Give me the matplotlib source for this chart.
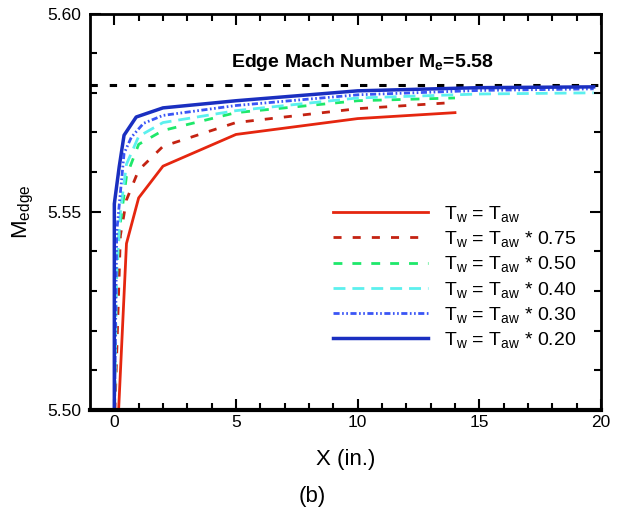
import matplotlib
matplotlib.use("Agg")
import matplotlib.pyplot as plt
import numpy as np

plt.rcParams['font.family'] = ['Liberation Sans', 'DejaVu Sans']
plt.rcParams['mathtext.fontset'] = 'custom'
plt.rcParams['mathtext.rm'] = 'Liberation Sans'
plt.rcParams['mathtext.it'] = 'Liberation Sans'
plt.rcParams['mathtext.bf'] = 'Liberation Sans:bold'
plt.rcParams['mathtext.default'] = 'regular'

# edge Mach number along the plate for each wall temperature ratio
x_aw = [0.1, 0.5, 1, 2, 5, 10, 14]
m_aw = [5.49, 5.542, 5.5535, 5.5615, 5.5695, 5.5735, 5.575]

x_075 = [0, 0.25, 0.5, 1, 2, 5, 10, 13.8]
m_075 = [5.495, 5.544, 5.553, 5.5605, 5.5665, 5.5725, 5.576, 5.5775]

x_050 = [0, 0.05, 0.2, 0.5, 1, 2, 5, 10, 14]
m_050 = [5.495, 5.528, 5.545, 5.559, 5.567, 5.5705, 5.575, 5.578, 5.5787]

x_040 = [0, 0.1, 0.25, 0.5, 1, 2, 5, 10, 15, 19.7]
m_040 = [5.495, 5.535, 5.55, 5.562, 5.569, 5.5725, 5.5755, 5.5787, 5.5797, 5.580]

x_030 = [0, 0.1, 0.4, 0.7, 1.2, 2, 5, 10, 15, 19.7]
m_030 = [5.495, 5.545, 5.5647, 5.5688, 5.5723, 5.5743, 5.5768, 5.5795, 5.5806, 5.581]

x_020 = [0, 0, 0.2, 0.4, 0.9, 2, 5, 10, 15, 19.7]
m_020 = [5.45, 5.552, 5.5613, 5.5693, 5.5739, 5.5762, 5.578, 5.5805, 5.5813, 5.5815]

m_edge = 5.582

labels = [r'$T_w$ = $T_{aw}$',
          r'$T_w$ = $T_{aw}$ * 0.75',
          r'$T_w$ = $T_{aw}$ * 0.50',
          r'$T_w$ = $T_{aw}$ * 0.40',
          r'$T_w$ = $T_{aw}$ * 0.30',
          r'$T_w$ = $T_{aw}$ * 0.20']

fig = plt.figure(figsize=(6.24, 5.14), dpi=100)
ax = fig.add_axes([0.1442, 0.2023, 0.8189, 0.7714])

ax.plot([-1, 20], [m_edge, m_edge], color='black', lw=2.2, dashes=(2.4, 3.9))

ax.plot(x_aw, m_aw, color='#e5260f', lw=2, label=labels[0])
ax.plot(x_075, m_075, color='#c42312', lw=2, dashes=(2.9, 4), label=labels[1])
ax.plot(x_050, m_050, color='#1ee86a', lw=2, dashes=(3.2, 3.6), label=labels[2])
ax.plot(x_040, m_040, color='#5cf0ee', lw=2, dashes=(4.3, 2.5), label=labels[3])
ax.plot(x_030, m_030, color='#3a55f5', lw=2,
        dashes=(2.2, 0.9, 0.6, 0.9, 0.6, 0.9), label=labels[4])
ax.plot(x_020, m_020, color='#1a2fc0', lw=2.5, label=labels[5])

ax.text(10.2, 5.5877, r'Edge Mach Number $\mathbf{M_e}$=5.58', fontsize=14,
        fontweight='bold', ha='center', va='center')

ax.set_xlim(-1, 20)
ax.set_ylim(5.50, 5.60)
ax.set_xticks([0, 5, 10, 15, 20])
ax.set_xticks(np.arange(0, 21, 1), minor=True)
ax.set_yticks([5.50, 5.55, 5.60])
ax.set_yticklabels(['5.50', '5.55', '5.60'])
ax.set_yticks(np.arange(5.50, 5.601, 0.01), minor=True)
ax.tick_params(which='both', direction='in', top=True, right=True, width=1.5, labelsize=12.5)
ax.tick_params(which='major', length=8)
ax.tick_params(which='minor', length=5)
ax.tick_params(axis='y', pad=6)
for s in ax.spines.values():
    s.set_linewidth(2)
ax.spines['bottom'].set_linewidth(3)

ax.set_xlabel('X (in.)', fontsize=16, labelpad=14)
ax.set_ylabel(r'$M_{edge}$', fontsize=16, labelpad=8)

ax.legend(loc='upper left', bbox_to_anchor=(0.475, 0.52), frameon=False,
          fontsize=14, handlelength=4.9, handletextpad=0.8, labelspacing=0.27,
          borderpad=0, borderaxespad=0)

fig.text(0.5, 0.035, '(b)', fontsize=16, ha='center', va='center')

fig.savefig('out.png', dpi=100)
